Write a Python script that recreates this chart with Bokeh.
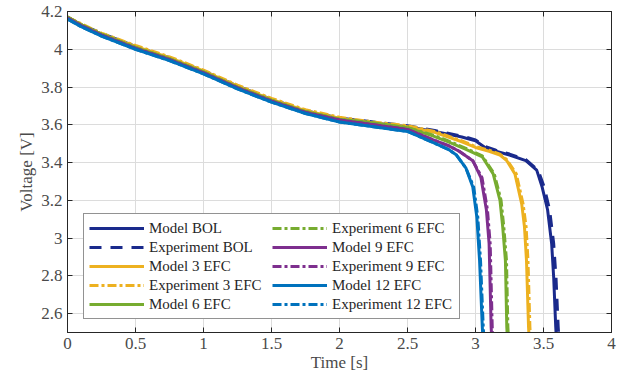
from bokeh.plotting import figure
from bokeh.models import Legend, LegendItem, LinearAxis, Title, FixedTicker, Range1d, CustomJSTickFormatter
from bokeh.embed import file_html
from bokeh.resources import INLINE

# ---- data (time in s, voltage in V) ----
t_model_bol = [0, 1000, 2500, 5000, 7500, 10000, 12500, 15000, 17500, 20000, 22500, 25000, 27000, 29000, 30000, 30700, 31500, 32500, 33700, 34500, 34900, 35300, 35600, 35750, 35900, 36000]
v_model_bol = [4.17, 4.13, 4.08, 4.01, 3.95, 3.88, 3.80, 3.73, 3.67, 3.63, 3.61, 3.59, 3.565, 3.535, 3.515, 3.48, 3.46, 3.44, 3.41, 3.36, 3.27, 3.15, 2.97, 2.79, 2.53, 2.40]
t_exp_bol = [0, 1000, 2500, 5000, 7500, 10000, 12500, 15000, 17500, 20000, 22500, 25000, 27000, 29000, 30000, 30700, 31500, 32500, 33700, 34600, 35050, 35450, 35750, 35920, 36080, 36200]
v_exp_bol = [4.17, 4.13, 4.085, 4.015, 3.955, 3.885, 3.805, 3.735, 3.675, 3.635, 3.615, 3.595, 3.57, 3.54, 3.52, 3.485, 3.465, 3.445, 3.415, 3.36, 3.27, 3.15, 2.97, 2.79, 2.53, 2.40]

t_model_3 = [0, 1000, 2500, 5000, 7500, 10000, 12500, 15000, 17500, 20000, 22500, 25000, 27000, 29000, 30000, 31000, 31800, 32300, 32900, 33400, 33600, 33750, 33900, 34000]
v_model_3 = [4.17, 4.13, 4.08, 4.015, 3.955, 3.885, 3.805, 3.735, 3.675, 3.635, 3.61, 3.59, 3.56, 3.51, 3.48, 3.46, 3.44, 3.41, 3.34, 3.18, 3.06, 2.88, 2.53, 2.40]
t_exp_3 = [0, 1000, 2500, 5000, 7500, 10000, 12500, 15000, 17500, 20000, 22500, 25000, 27000, 29000, 30000, 31000, 31800, 32300, 33000, 33500, 33720, 33860, 34000, 34100]
v_exp_3 = [4.17, 4.135, 4.085, 4.02, 3.96, 3.89, 3.81, 3.74, 3.68, 3.64, 3.615, 3.595, 3.565, 3.515, 3.485, 3.465, 3.445, 3.415, 3.34, 3.18, 3.06, 2.88, 2.53, 2.40]

t_model_6 = [0, 1000, 2500, 5000, 7500, 10000, 12500, 15000, 17500, 20000, 22500, 25000, 26900, 28000, 29300, 30500, 31300, 31800, 32000, 32200, 32300, 32400]
v_model_6 = [4.17, 4.13, 4.08, 4.01, 3.95, 3.88, 3.80, 3.73, 3.67, 3.63, 3.61, 3.585, 3.54, 3.51, 3.47, 3.43, 3.34, 3.20, 3.06, 2.88, 2.53, 2.40]
t_exp_6 = [0, 1000, 2500, 5000, 7500, 10000, 12500, 15000, 17500, 20000, 22500, 25000, 26900, 28000, 29300, 30500, 31380, 31880, 32080, 32280, 32380, 32480]
v_exp_6 = [4.17, 4.13, 4.08, 4.01, 3.95, 3.88, 3.80, 3.73, 3.67, 3.63, 3.61, 3.585, 3.545, 3.515, 3.475, 3.435, 3.34, 3.20, 3.06, 2.88, 2.53, 2.40]

t_model_9 = [0, 1000, 2500, 5000, 7500, 10000, 12500, 15000, 17500, 20000, 22500, 25000, 26900, 28000, 28800, 29800, 30400, 30800, 31000, 31150, 31250]
v_model_9 = [4.165, 4.125, 4.075, 4.005, 3.945, 3.875, 3.795, 3.725, 3.665, 3.625, 3.60, 3.575, 3.52, 3.49, 3.46, 3.41, 3.32, 3.15, 2.97, 2.53, 2.40]
t_exp_9 = [0, 1000, 2500, 5000, 7500, 10000, 12500, 15000, 17500, 20000, 22500, 25000, 26900, 28000, 28800, 29800, 30480, 30880, 31080, 31230, 31330]
v_exp_9 = [4.165, 4.125, 4.075, 4.005, 3.945, 3.875, 3.795, 3.725, 3.665, 3.625, 3.60, 3.575, 3.52, 3.49, 3.46, 3.41, 3.32, 3.15, 2.97, 2.53, 2.40]

t_model_12 = [0, 1000, 2500, 5000, 7500, 10000, 12500, 15000, 17500, 20000, 22500, 25000, 26900, 28000, 28600, 29300, 29800, 30100, 30300, 30500, 30600]
v_model_12 = [4.16, 4.12, 4.07, 4.0, 3.94, 3.87, 3.79, 3.72, 3.66, 3.615, 3.59, 3.565, 3.505, 3.47, 3.44, 3.37, 3.27, 3.11, 2.88, 2.53, 2.40]
t_exp_12 = [0, 1000, 2500, 5000, 7500, 10000, 12500, 15000, 17500, 20000, 22500, 25000, 26900, 28000, 28600, 29300, 29870, 30170, 30370, 30570, 30670]
v_exp_12 = [4.16, 4.12, 4.07, 4.0, 3.94, 3.87, 3.79, 3.72, 3.66, 3.615, 3.59, 3.565, 3.505, 3.47, 3.44, 3.37, 3.27, 3.11, 2.88, 2.53, 2.40]

x_ticks = [0, 5000, 10000, 15000, 20000, 25000, 30000, 35000, 40000]
x_tick_labels = ["0", "0.5", "1", "1.5", "2", "2.5", "3", "3.5", "4"]
y_ticks = [2.6, 2.8, 3.0, 3.2, 3.4, 3.6, 3.8, 4.0, 4.2]
y_tick_labels = ["2.6", "2.8", "3", "3.2", "3.4", "3.6", "3.8", "4", "4.2"]

series = [
    ("Model BOL", t_model_bol, v_model_bol, "#1a2a8c", "solid"),
    ("Experiment BOL", t_exp_bol, v_exp_bol, "#1a2a8c", "12 9"),
    ("Model 3 EFC", t_model_3, v_model_3, "#EDB120", "solid"),
    ("Experiment 3 EFC", t_exp_3, v_exp_3, "#EDB120", "9 3 3 3"),
    ("Model 6 EFC", t_model_6, v_model_6, "#77AC30", "solid"),
    ("Experiment 6 EFC", t_exp_6, v_exp_6, "#77AC30", "9 3 3 3"),
    ("Model 9 EFC", t_model_9, v_model_9, "#7E2F8E", "solid"),
    ("Experiment 9 EFC", t_exp_9, v_exp_9, "#7E2F8E", "9 3 3 3"),
    ("Model 12 EFC", t_model_12, v_model_12, "#0072BD", "solid"),
    ("Experiment 12 EFC", t_exp_12, v_exp_12, "#0072BD", "9 3 3 3"),
]

FONT = "Liberation Serif"
TXT = "#4a4a4a"

p = figure(width=631, height=390, output_backend="svg", toolbar_location=None,
           x_range=Range1d(0, 40000), y_range=Range1d(2.5, 4.2),
           min_border_left=67, min_border_right=20, min_border_top=11, min_border_bottom=0)
p.frame_width = 544
p.frame_height = 321
p.outline_line_color = "#262626"
p.outline_line_width = 1
p.background_fill_color = "white"

items = []
for name, t, v, c, dash in series:
    r = p.line(t, v, line_color=c, line_width=3, line_dash=dash)
    items.append(LegendItem(label=name, renderers=[r]))

for ax in (p.xaxis[0], p.yaxis[0]):
    ax.major_tick_in = 5
    ax.major_tick_out = 0
    ax.minor_tick_in = 0
    ax.minor_tick_out = 0
    ax.axis_line_color = "#262626"
    ax.major_tick_line_color = "#262626"
    ax.major_label_text_font = FONT
    ax.major_label_text_font_size = "17px"
    ax.major_label_text_color = TXT
    ax.axis_label_text_font = FONT
    ax.axis_label_text_font_size = "17px"
    ax.axis_label_text_font_style = "normal"
    ax.axis_label_text_color = TXT

p.xaxis[0].ticker = FixedTicker(ticks=x_ticks)
p.xaxis[0].major_label_overrides = {t: l for t, l in zip(x_ticks, x_tick_labels)}
p.xaxis[0].axis_label = "Time [s]"
p.xaxis[0].axis_label_standoff = 1
p.xaxis[0].major_label_standoff = 5
p.yaxis[0].ticker = FixedTicker(ticks=y_ticks)
p.yaxis[0].major_label_overrides = {t: l for t, l in zip(y_ticks, y_tick_labels)}
p.yaxis[0].axis_label = "Voltage [V]"
p.yaxis[0].axis_label_standoff = 2
p.yaxis[0].major_label_standoff = 5

blank = CustomJSTickFormatter(code="return ''")
for loc, tk in (("right", y_ticks), ("above", x_ticks)):
    ax = LinearAxis(ticker=FixedTicker(ticks=tk), major_tick_in=5, major_tick_out=0,
                    minor_tick_in=0, minor_tick_out=0, formatter=blank,
                    major_label_standoff=0, axis_line_color="#262626",
                    major_tick_line_color="#262626")
    p.add_layout(ax, loc)

p.xgrid.ticker = FixedTicker(ticks=x_ticks)
p.ygrid.ticker = FixedTicker(ticks=y_ticks)
p.grid.grid_line_color = "#dcdcdc"
p.grid.grid_line_width = 1

legend = Legend(items=items, location=(16, 13), ncols=2, orientation="vertical",
                border_line_color="#262626", border_line_width=1,
                label_text_font=FONT, label_text_font_size="15px", label_text_color="#262626",
                glyph_width=55, glyph_height=18, label_height=18, label_width=122, spacing=1,
                padding=5, margin=0, label_standoff=5, background_fill_alpha=1)
p.add_layout(legend)

p.add_layout(Title(text="×10⁴", align="right", text_font=FONT, text_font_size="15px",
                   text_font_style="normal", text_color=TXT, standoff=-24, offset=-2), "below")

open("out.html", "w").write(file_html(p, INLINE))
